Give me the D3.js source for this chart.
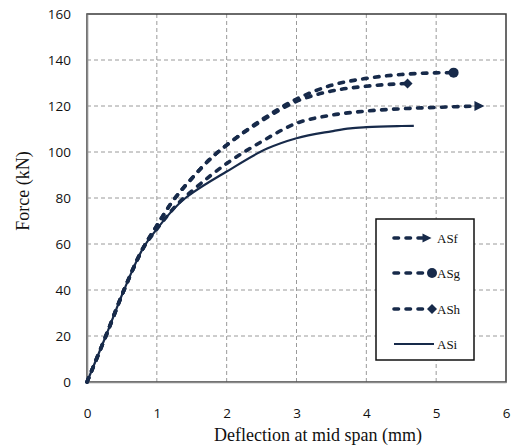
<!DOCTYPE html>
<html>
<head>
<meta charset="utf-8">
<script src="https://cdn.jsdelivr.net/npm/d3@7/dist/d3.min.js"></script>
<style>
  html, body { margin: 0; padding: 0; background: #fff; }
  svg { display: block; }
</style>
</head>
<body>
<svg id="chart" width="512" height="447"></svg>
<script>
// ---- data ----
const xTicks = [0, 1, 2, 3, 4, 5, 6];
const yTicks = [0, 20, 40, 60, 80, 100, 120, 140, 160];
const seriesNames = ["ASf", "ASg", "ASh", "ASi"];

const asfX = [0, 0.27, 0.53, 0.8, 1, 1.35, 1.5, 2, 2.5, 3, 3.5, 4, 4.5, 5, 5.62];
const asfY = [0, 20, 40, 58, 66.5, 79, 83, 95, 104.5, 112.5, 116, 117.8, 118.8, 119.4, 120];

const asgX = [0, 0.27, 0.53, 0.8, 1, 1.2, 1.5, 1.8, 2, 2.5, 3, 3.5, 4, 4.5, 5, 5.25];
const asgY = [0, 20, 40, 58, 68, 77.5, 88.5, 98, 103, 114, 123, 129, 132, 133.7, 134.4, 134.5];

const ashX = [0, 0.27, 0.53, 0.8, 1, 1.2, 1.5, 1.8, 2, 2.5, 3, 3.5, 4, 4.59];
const ashY = [0, 20, 40, 58, 68, 77.5, 88.5, 98, 103, 113.5, 122, 126.5, 128.6, 129.8];

const asiX = [0, 0.27, 0.53, 0.8, 1, 1.41, 1.5, 2, 2.58, 3, 3.5, 3.77, 4, 4.5, 4.68];
const asiY = [0, 20, 40, 58, 66.5, 80, 82, 91.5, 101.5, 106, 109, 110.3, 110.8, 111.3, 111.4];

// ---- layout ----
const svg = d3.select("#chart");
const pLeft = 87, pRight = 506, pTop = 14, pBottom = 382;
const x = d3.scaleLinear().domain([0, 6]).range([pLeft, pRight]);
const y = d3.scaleLinear().domain([0, 160]).range([pBottom, pTop]);
const navy = "#172a4a";

// grid
const g = svg.append("g");
g.selectAll(".vg").data(xTicks.filter(d => d > 0 && d < 6)).enter().append("line")
  .attr("x1", d => x(d)).attr("x2", d => x(d)).attr("y1", pTop).attr("y2", pBottom)
  .attr("stroke", "#9a9a9a").attr("stroke-width", 1).attr("stroke-dasharray", "4,3");
g.selectAll(".hg").data(yTicks.filter(d => d > 0 && d < 160)).enter().append("line")
  .attr("x1", pLeft).attr("x2", pRight).attr("y1", d => y(d)).attr("y2", d => y(d))
  .attr("stroke", "#9a9a9a").attr("stroke-width", 1).attr("stroke-dasharray", "4,3");

// plot border
svg.append("rect").attr("x", pLeft).attr("y", pTop).attr("width", pRight - pLeft).attr("height", pBottom - pTop)
  .attr("fill", "none").attr("stroke", "#3a3a3a").attr("stroke-width", 1.5);

// axes
const xAxis = d3.axisBottom(x).tickValues(xTicks).tickSize(0).tickPadding(0).tickFormat(d3.format("d"));
const yAxis = d3.axisLeft(y).tickValues(yTicks).tickSize(0).tickPadding(0).tickFormat(d3.format("d"));
const gx = svg.append("g").attr("transform", `translate(0,${pBottom})`).call(xAxis);
const gy = svg.append("g").attr("transform", `translate(${pLeft},0)`).call(yAxis);
[gx, gy].forEach(a => {
  a.select(".domain").attr("stroke", "#8a8a8a").attr("stroke-width", 1.6);
  a.selectAll("text").attr("font-family", "'Open Sans', sans-serif").attr("font-size", 13.5).attr("fill", "#111");
});
gx.selectAll("text").attr("dy", null).attr("y", 36);
gy.selectAll("text").attr("x", -16).attr("dy", "0.35em");

// series
const line = d3.line().x(d => x(d[0])).y(d => y(d[1])).curve(d3.curveMonotoneX);
const zip = (a, b) => a.map((v, i) => [v, b[i]]);
const series = [
  { name: "ASf", pts: zip(asfX, asfY), dashed: true, marker: "tri" },
  { name: "ASg", pts: zip(asgX, asgY), dashed: true, marker: "circ" },
  { name: "ASh", pts: zip(ashX, ashY), dashed: true, marker: "dia" },
  { name: "ASi", pts: zip(asiX, asiY), dashed: false, marker: null }
];

function drawMarker(sel, type, cx, cy, s) {
  if (type === "circ") {
    sel.append("circle").attr("cx", cx).attr("cy", cy).attr("r", s).attr("fill", navy);
  } else if (type === "dia") {
    sel.append("path").attr("d", `M${cx - s},${cy}L${cx},${cy - s}L${cx + s},${cy}L${cx},${cy + s}Z`).attr("fill", navy);
  } else if (type === "tri") {
    sel.append("path").attr("d", `M${cx - s},${cy - s}L${cx + s},${cy}L${cx - s},${cy + s}Z`).attr("fill", navy);
  }
}

series.slice().reverse().forEach(s => {
  svg.append("path").datum(s.pts).attr("d", line)
    .attr("fill", "none").attr("stroke", navy)
    .attr("stroke-width", s.dashed ? 3.6 : 2.2)
    .attr("stroke-linecap", s.dashed ? "round" : "butt")
    .attr("stroke-dasharray", s.dashed ? "4.5,7.5" : null);
  if (s.marker) {
    const last = s.pts[s.pts.length - 1];
    drawMarker(svg, s.marker, x(last[0]), y(last[1]), 5);
  }
});

// legend
const lg = svg.append("g");
lg.append("rect").attr("x", 376).attr("y", 219).attr("width", 98).attr("height", 141)
  .attr("fill", "#fff").attr("stroke", "#111").attr("stroke-width", 1.5);
const legY = [238, 273, 309, 344];
series.forEach((s, i) => {
  const yy = legY[i];
  const endX = s.marker ? 427 : 434;
  lg.append("line").attr("x1", 394).attr("x2", endX).attr("y1", yy).attr("y2", yy)
    .attr("stroke", navy).attr("stroke-width", s.dashed ? 3.6 : 2.2)
    .attr("stroke-linecap", s.dashed ? "round" : "butt")
    .attr("stroke-dasharray", s.dashed ? "4.5,7.5" : null);
  if (s.marker) drawMarker(lg, s.marker, s.marker === "tri" ? 427 : 432, yy, s.marker === "tri" ? 4.5 : 5);
  lg.append("text").attr("x", 437).attr("y", yy + 4.5).text(s.name)
    .attr("font-family", "'Liberation Serif', 'Times New Roman', serif").attr("font-size", 13).attr("fill", "#111");
});

// axis titles
svg.append("text").attr("x", 318).attr("y", 441).attr("text-anchor", "middle")
  .attr("font-family", "'Liberation Serif', 'Times New Roman', serif").attr("font-size", 18).attr("fill", "#111")
  .text("Deflection at mid span (mm)");
svg.append("text").attr("transform", "translate(29,191) rotate(-90)").attr("text-anchor", "middle")
  .attr("font-family", "'Liberation Serif', 'Times New Roman', serif").attr("font-size", 18).attr("fill", "#111")
  .text("Force (kN)");
</script>
</body>
</html>
